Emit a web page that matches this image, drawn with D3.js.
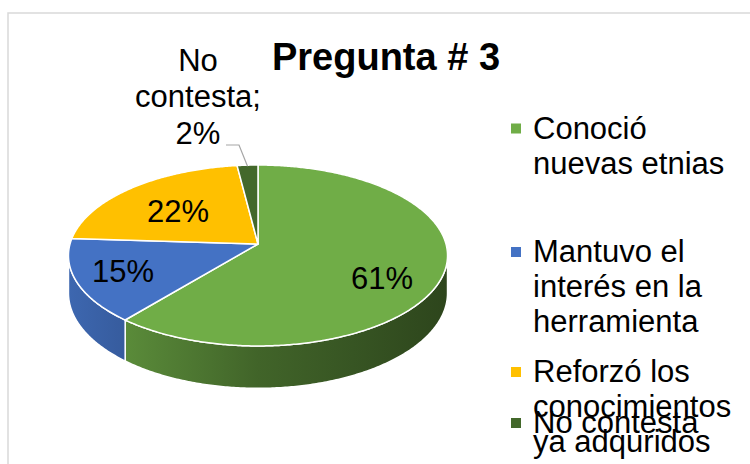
<!DOCTYPE html>
<html>
<head>
<meta charset="utf-8">
<script src="https://cdn.jsdelivr.net/npm/d3@7"></script>
<style>
  html, body { margin: 0; padding: 0; background: #fff; }
  svg { display: block; font-family: "Liberation Sans", Arial, sans-serif; }
</style>
</head>
<body>
<svg id="chart" width="750" height="464"></svg>
<script>
// Survey answers for question 3
const title = "Pregunta # 3";
const categories = ["Conoció nuevas etnias", "Mantuvo el interés en la herramienta", "Reforzó los conocimientos ya adquridos", "No contesta"];
const legendLines = [["Conoció", "nuevas etnias"], ["Mantuvo el", "interés en la", "herramienta"], ["Reforzó los", "conocimientos", "ya adquridos"], ["No contesta"]];
const values = [61, 15, 22, 2];
const colors = ["#70AD47", "#4472C4", "#FFC000", "#43682B"];

const svg = d3.select("#chart");

// chart frame
svg.append("rect")
  .attr("x", 8).attr("y", 13).attr("width", 780).attr("height", 480)
  .attr("fill", "none").attr("stroke", "#d9d9d9").attr("stroke-width", 1.5);

// tilted pie: projection of a flat disc seen in perspective
const cx = 258, cy = 244, rx = 188, ry = 89, persp = 0.127, depth = 37;
function proj(theta, r, dz) {
  const s = 1 / (1 + persp * Math.cos(theta));
  return [cx + rx * r * Math.sin(theta) * s, cy + (-ry * r * Math.cos(theta) + (dz || 0)) * s];
}

const pie = d3.pie().sort(null).value(d => d).startAngle(0).endAngle(2 * Math.PI);
const arcs = pie(values);
const total = d3.sum(values);
const pct = d3.format(".0%");

// horizontal shading across the side wall
const defs = svg.append("defs");
const shade = d3.scaleLinear().domain([68, 258, 448]).range([0.9, 0.58, 0.40]);
colors.forEach((c, i) => {
  const g = defs.append("linearGradient").attr("id", "side" + i)
    .attr("gradientUnits", "userSpaceOnUse")
    .attr("x1", 68).attr("x2", 448).attr("y1", 0).attr("y2", 0);
  [68, 163, 258, 353, 448].forEach(x => {
    const base = d3.rgb(c), f = shade(x);
    g.append("stop").attr("offset", (x - 68) / 380)
      .attr("stop-color", d3.rgb(base.r * f, base.g * f, base.b * f).formatHex());
  });
});

// visible part of the rim lies between the two silhouette angles
const silR = Math.acos(-persp), silL = 2 * Math.PI - silR;
const steps = a => Math.max(2, Math.ceil(Math.abs(a) / 0.01));

const sideG = svg.append("g");
arcs.forEach((a, i) => {
  const a0 = Math.max(a.startAngle, silR), a1 = Math.min(a.endAngle, silL);
  if (a1 <= a0) return;
  const n = steps(a1 - a0);
  const top = d3.range(n + 1).map(j => proj(a0 + (a1 - a0) * j / n, 1, 0));
  const bot = d3.range(n + 1).map(j => proj(a1 - (a1 - a0) * j / n, 1, depth));
  sideG.append("path")
    .attr("d", d3.line()(top.concat(bot)) + "Z")
    .attr("fill", `url(#side${i})`)
    .attr("stroke", "#fff").attr("stroke-width", 1.5).attr("stroke-linejoin", "round");
});

const topG = svg.append("g");
arcs.forEach((a, i) => {
  const n = steps(a.endAngle - a.startAngle);
  const pts = [[cx, cy]].concat(d3.range(n + 1).map(j => proj(a.startAngle + (a.endAngle - a.startAngle) * j / n, 1, 0)));
  topG.append("path")
    .attr("d", d3.line()(pts) + "Z")
    .attr("fill", colors[i])
    .attr("stroke", "#fff").attr("stroke-width", 1.5).attr("stroke-linejoin", "round");
});

// data labels
const labelFont = 31;
const labelPos = [[382, 289], [123, 282], [178, 222]];
arcs.slice(0, 3).forEach((a, i) => {
  svg.append("text")
    .attr("x", labelPos[i][0]).attr("y", labelPos[i][1])
    .attr("text-anchor", "middle").attr("font-size", labelFont).attr("fill", "#000")
    .text(pct(values[i] / total));
});

// outside label for the thin slice, with leader line
const last = arcs[3];
const lead = proj((last.startAngle + last.endAngle) / 2, 1, 0);
svg.append("path")
  .attr("d", d3.line()([[226, 145], [239, 145], [lead[0], lead[1] + 1]]))
  .attr("fill", "none").attr("stroke", "#a6a6a6").attr("stroke-width", 1.2);
const outLines = ["No", categories[3].replace("No ", "") + ";", pct(values[3] / total)];
svg.append("text")
  .attr("text-anchor", "middle").attr("font-size", labelFont).attr("fill", "#000")
  .selectAll("tspan").data(outLines).join("tspan")
  .attr("x", 198).attr("y", (d, j) => 70.5 + j * 36.5)
  .text(d => d);

// title
svg.append("text")
  .attr("x", 386).attr("y", 70).attr("text-anchor", "middle")
  .attr("font-size", 38).attr("font-weight", "bold").attr("fill", "#000")
  .text(title);

// legend
const legendY = [138.5, 262, 382, 433];
const legendLH = 35;
const lg = svg.append("g");
categories.forEach((c, i) => {
  lg.append("rect")
    .attr("x", 511).attr("y", legendY[i] - 15).attr("width", 10).attr("height", 10)
    .attr("fill", colors[i]);
  lg.append("text")
    .attr("font-size", labelFont).attr("fill", "#000")
    .selectAll("tspan").data(legendLines[i]).join("tspan")
    .attr("x", 533).attr("y", (d, j) => legendY[i] + j * legendLH)
    .text(d => d);
});
</script>
</body>
</html>
